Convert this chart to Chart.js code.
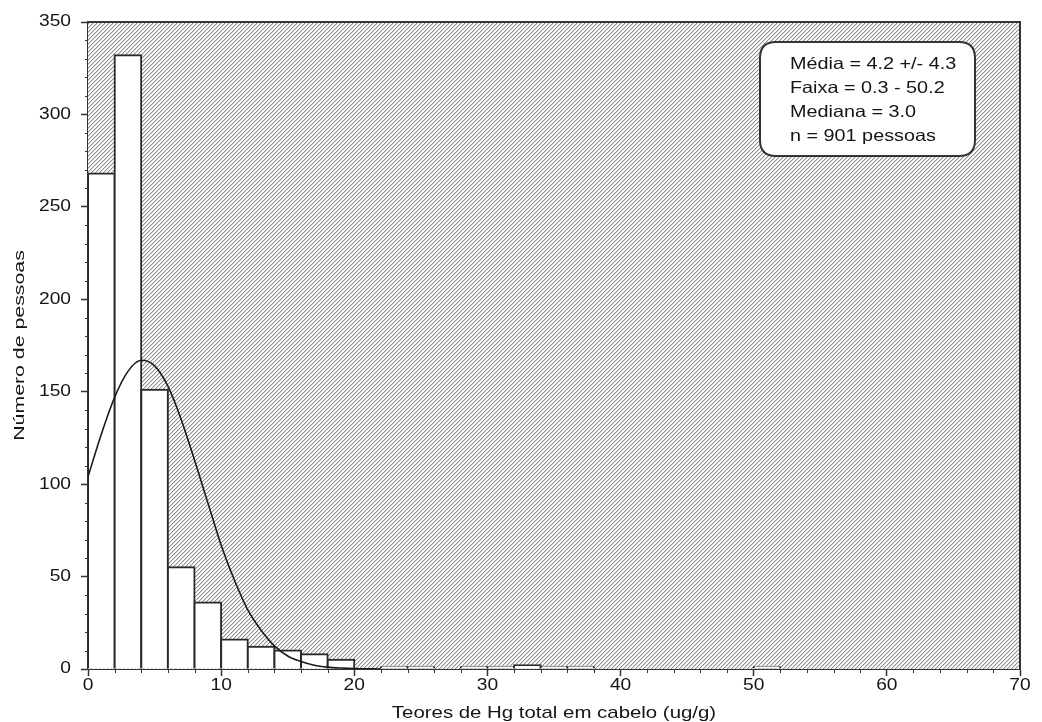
<!DOCTYPE html>
<html>
<head>
<meta charset="utf-8">
<script src="https://cdn.jsdelivr.net/npm/chart.js@4.4.1/dist/chart.umd.min.js"></script>
<style>
  html, body { margin: 0; padding: 0; background: #fff; }
  #wrap { width: 1042px; height: 722px; position: relative; }
</style>
</head>
<body>
<div id="wrap"><canvas id="c" width="1042" height="722"></canvas></div>
<script>
// Histogram bins (lower edge of each 2 ug/g bin) and counts
const binStarts = [0, 2, 4, 6, 8, 10, 12, 14, 16, 18, 22, 24, 28, 30, 32, 34, 36, 50];
const binCounts = [268, 332, 151, 55, 36, 16, 12, 10, 8, 5, 1, 1, 1, 1, 2, 1, 1, 1];
const binWidth = 2;

// Fitted normal curve
const curveX = [0, 1, 2, 3, 4, 5, 6, 7, 8, 9, 10, 11, 12, 13, 14, 15, 16, 17, 18, 19, 20, 21, 22];
const curveY = [104, 127, 147, 161, 167, 164, 153, 135, 113, 90, 67, 48, 32, 21, 12.5, 7, 4, 2, 1, 0.5, 0.2, 0.1, 0];

// Axis ticks
const xTicks = [0, 10, 20, 30, 40, 50, 60, 70];
const yTicks = [0, 50, 100, 150, 200, 250, 300, 350];

// Summary box text
const statsLines = ["Média = 4.2 +/- 4.3", "Faixa = 0.3 - 50.2", "Mediana = 3.0", "n = 901 pessoas"];

const xTitle = "Teores de Hg total em cabelo (ug/g)";
const yTitle = "Número de pessoas";

const FONT = "'Liberation Sans', Arial, sans-serif";
const STRETCH = 1.2;
const TXT = '#151515';

function makePattern(ctx) {
  const p = document.createElement('canvas');
  p.width = 4; p.height = 4;
  const pc = p.getContext('2d');
  pc.fillStyle = '#ffffff';
  pc.fillRect(0, 0, 4, 4);
  pc.fillStyle = '#8e8e8e';
  for (let i = 0; i < 4; i++) pc.fillRect(i, 3 - i, 1, 1);
  pc.fillStyle = '#d6d6d6';
  for (let i = 0; i < 4; i++) pc.fillRect((i + 1) % 4, 3 - i, 1, 1);
  return ctx.createPattern(p, 'repeat');
}

function stretchText(ctx, text, x, y, align, size, angle) {
  ctx.save();
  ctx.translate(x, y);
  if (angle) ctx.rotate(angle);
  ctx.scale(STRETCH, 1);
  ctx.font = size + 'px ' + FONT;
  ctx.fillStyle = TXT;
  ctx.textAlign = align;
  ctx.textBaseline = 'middle';
  ctx.fillText(text, 0, 0);
  ctx.restore();
}

const bgPlugin = {
  id: 'bg',
  beforeDatasetsDraw(chart) {
    const { ctx, chartArea: a } = chart;
    ctx.save();
    ctx.fillStyle = makePattern(ctx);
    ctx.fillRect(a.left, a.top, a.right - a.left, a.bottom - a.top);
    ctx.restore();
  },
  afterDraw(chart) {
    const { ctx, chartArea: a, scales } = chart;
    const xs = scales.x, ys = scales.y;
    ctx.save();
    // frame top/right
    ctx.strokeStyle = '#333';
    ctx.lineWidth = 2;
    ctx.beginPath();
    ctx.moveTo(a.left, a.top);
    ctx.lineTo(a.right, a.top);
    ctx.lineTo(a.right, a.bottom);
    ctx.stroke();
    // minor ticks
    ctx.lineWidth = 1;
    ctx.beginPath();
    for (let v = xs.min; v <= xs.max; v += 2) {
      if (v % 10 === 0) continue;
      const px = Math.round(xs.getPixelForValue(v)) + 0.5;
      ctx.moveTo(px, a.bottom);
      ctx.lineTo(px, a.bottom + 4);
    }
    for (let v = ys.min; v <= ys.max; v += 10) {
      if (v % 50 === 0) continue;
      const py = Math.round(ys.getPixelForValue(v)) + 0.5;
      ctx.moveTo(a.left - 3, py);
      ctx.lineTo(a.left, py);
    }
    ctx.stroke();
    ctx.restore();

    // tick labels
    xTicks.forEach(v => stretchText(ctx, String(v), xs.getPixelForValue(v), 686, 'center', 16));
    yTicks.forEach(v => stretchText(ctx, String(v), 71, ys.getPixelForValue(v), 'right', 16));
    // axis titles
    stretchText(ctx, xTitle, (a.left + a.right) / 2, 713, 'center', 17);
    ctx.save();
    ctx.translate(20, (a.top + a.bottom) / 2);
    ctx.rotate(-Math.PI / 2);
    ctx.scale(1.42, 1);
    ctx.font = '15px ' + FONT;
    ctx.fillStyle = TXT;
    ctx.textAlign = 'center';
    ctx.textBaseline = 'middle';
    ctx.fillText(yTitle, 0, 0);
    ctx.restore();

    // stats box
    ctx.save();
    const bx = 760, by = 42, bw = 215, bh = 114, r = 16;
    ctx.beginPath();
    ctx.moveTo(bx + r, by);
    ctx.lineTo(bx + bw - r, by);
    ctx.quadraticCurveTo(bx + bw, by, bx + bw, by + r);
    ctx.lineTo(bx + bw, by + bh - r);
    ctx.quadraticCurveTo(bx + bw, by + bh, bx + bw - r, by + bh);
    ctx.lineTo(bx + r, by + bh);
    ctx.quadraticCurveTo(bx, by + bh, bx, by + bh - r);
    ctx.lineTo(bx, by + r);
    ctx.quadraticCurveTo(bx, by, bx + r, by);
    ctx.closePath();
    ctx.fillStyle = '#fff';
    ctx.fill();
    ctx.lineWidth = 2;
    ctx.strokeStyle = '#333';
    ctx.stroke();
    ctx.restore();
    statsLines.forEach((t, i) => stretchText(ctx, t, 790, 64 + i * 24, 'left', 16.5));
  }
};

const barData = binStarts.map((s, i) => ({ x: s + binWidth / 2, y: binCounts[i] }));
const curveData = curveX.map((x, i) => ({ x: x, y: curveY[i] }));

new Chart(document.getElementById('c'), {
  data: {
    datasets: [
      {
        type: 'line',
        data: curveData,
        borderColor: '#1a1a1a',
        borderWidth: 1.6,
        pointRadius: 0,
        tension: 0.4,
        cubicInterpolationMode: 'monotone',
        fill: false,
        order: 0
      },
      {
        type: 'bar',
        data: barData,
        backgroundColor: '#ffffff',
        borderColor: '#2a2a2a',
        borderWidth: 2,
        inflateAmount: 1,
        borderSkipped: 'bottom',
        barPercentage: 1,
        categoryPercentage: 1,
        order: 1
      }
    ]
  },
  options: {
    responsive: false,
    animation: false,
    layout: { padding: { left: 0, top: 22, right: 22, bottom: 0 } },
    plugins: { legend: { display: false }, tooltip: { enabled: false } },
    scales: {
      x: {
        type: 'linear',
        min: 0, max: 70,
        offset: false,
        afterFit(s) { s.height = 53; },
        afterBuildTicks(s) { s.ticks = xTicks.map(v => ({ value: v })); },
        ticks: { color: 'rgba(0,0,0,0)', font: { family: FONT, size: 15 }, padding: 3, maxRotation: 0 },
        grid: { offset: false, drawOnChartArea: false, drawTicks: true, tickLength: 7, tickColor: '#333', tickWidth: 1.5 },
        border: { display: true, color: '#333', width: 2 },
        title: { display: false }
      },
      y: {
        type: 'linear',
        min: 0, max: 350,
        afterFit(s) { s.width = 88; },
        afterBuildTicks(s) { s.ticks = yTicks.map(v => ({ value: v })); },
        ticks: { color: 'rgba(0,0,0,0)', font: { family: FONT, size: 15 }, padding: 11 },
        grid: { drawOnChartArea: false, drawTicks: true, tickLength: 7, tickColor: '#333', tickWidth: 1.5 },
        border: { display: true, color: '#333', width: 2 },
        title: { display: false }
      }
    }
  },
  plugins: [bgPlugin]
});
</script>
</body>
</html>
